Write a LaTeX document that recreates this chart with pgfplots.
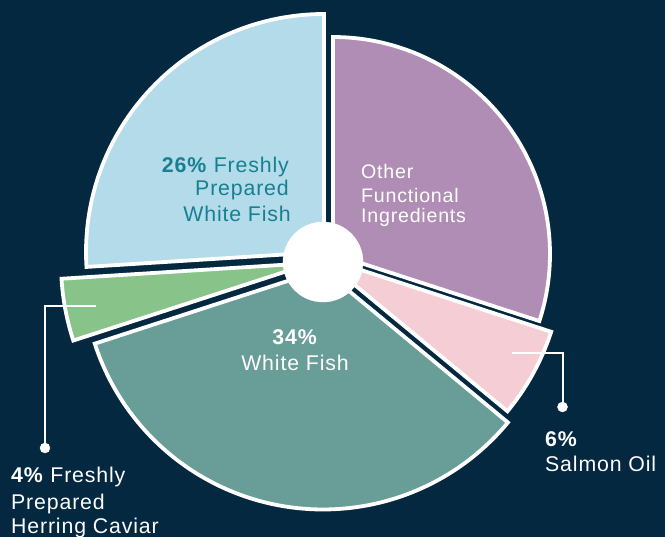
\documentclass[border=0pt]{standalone}
\usepackage{pgfplots}
\pgfplotsset{compat=1.18}
\usepackage{fontspec}
\setmainfont{Liberation Sans}[LetterSpace=4]
\definecolor{bg}{HTML}{032840}
\definecolor{cblue}{HTML}{B3DBEA}
\definecolor{cpurple}{HTML}{B08DB5}
\definecolor{cpink}{HTML}{F5CDD5}
\definecolor{cteal}{HTML}{699E98}
\definecolor{cgreen}{HTML}{88C489}
\definecolor{ctext}{HTML}{178090}
% shares (percent)
\def\pOther{30}\def\pSalmon{6}\def\pWhite{34}\def\pHerring{4}\def\pFresh{26}
\pgfmathsetmacro\aA{90}
\pgfmathsetmacro\aB{\aA-3.6*\pOther}
\pgfmathsetmacro\aC{\aB-3.6*\pSalmon}
\pgfmathsetmacro\aD{\aC-3.6*\pWhite}
\pgfmathsetmacro\aE{\aD-3.6*\pHerring}
\pgfmathsetmacro\aF{\aE-3.6*\pFresh}
% slice: color, start angle, end angle, radius, apex x, apex y
\newcommand\slice[6]{%
  \addplot[fill=#1, draw=white, line width=3.8bp, line join=miter, domain=#3:#2, samples=90, variable=\t]
    ({#5+#4*cos(\t)},{#6+#4*sin(\t)}) -- (axis cs:#5,#6) -- cycle;}
\newcommand\lab{\fontsize{21.3bp}{24bp}\selectfont}
\newcommand\labs{\fontsize{19.6bp}{22bp}\selectfont}
\begin{document}
\begin{tikzpicture}
\useasboundingbox (0,0) rectangle (665bp,537bp);
\fill[bg] (0,0) rectangle (665bp,537bp);
\begin{axis}[
  at={(0,0)}, anchor=south west,
  scale only axis, width=665bp, height=537bp,
  xmin=0, xmax=665, ymin=0, ymax=537,
  hide axis, clip=false]
\slice{cpurple}{\aA}{\aB}{217}{333}{283}
\slice{cpink}{\aB}{\aC}{242}{321}{280}
\slice{cteal}{\aC}{\aD}{240}{323}{267.5}
\slice{cgreen}{\aD}{\aE}{251}{312}{274}
\slice{cblue}{\aE}{\aF}{238}{324}{285}
% centre disc
\addplot[only marks, mark=*, mark size=40bp, white] coordinates {(323,275)};
% leader lines
\addplot[white, line width=2bp, mark=none] coordinates {(512,184) (562.5,184) (562.5,130)};
\addplot[only marks, white, mark=*, mark size=5bp] coordinates {(562.5,130)};
\addplot[white, line width=2bp, mark=none] coordinates {(96,231) (45,231) (45,89)};
\addplot[only marks, white, mark=*, mark size=5bp] coordinates {(45,89)};
% labels
\node[anchor=base east, inner sep=0, text=ctext, font=\lab] at (axis cs:289,364.3) {\textbf{26\%} Freshly};
\node[anchor=base east, inner sep=0, text=ctext, font=\lab] at (axis cs:289,341.3) {Prepared};
\node[anchor=base east, inner sep=0, text=ctext, font=\lab] at (axis cs:291,315.3) {White Fish};
\node[anchor=base west, inner sep=0, text=white, font=\labs] at (axis cs:361,358) {Other};
\node[anchor=base west, inner sep=0, text=white, font=\labs] at (axis cs:361,334.3) {Functional};
\node[anchor=base west, inner sep=0, text=white, font=\labs] at (axis cs:361,314) {Ingredients};
\node[anchor=base, inner sep=0, text=white, font=\lab] at (axis cs:295,192) {\textbf{34\%}};
\node[anchor=base, inner sep=0, text=white, font=\lab] at (axis cs:295,166.3) {White Fish};
\node[anchor=base west, inner sep=0, text=white, font=\lab] at (axis cs:545,90.3) {\textbf{6\%}};
\node[anchor=base west, inner sep=0, text=white, font=\lab] at (axis cs:545,65.3) {Salmon Oil};
\node[anchor=base west, inner sep=0, text=white, font=\lab] at (axis cs:11,54) {\textbf{4\%} Freshly};
\node[anchor=base west, inner sep=0, text=white, font=\lab] at (axis cs:11,28) {Prepared};
\node[anchor=base west, inner sep=0, text=white, font=\lab] at (axis cs:11,4) {Herring Caviar};
\end{axis}
\end{tikzpicture}
\end{document}
